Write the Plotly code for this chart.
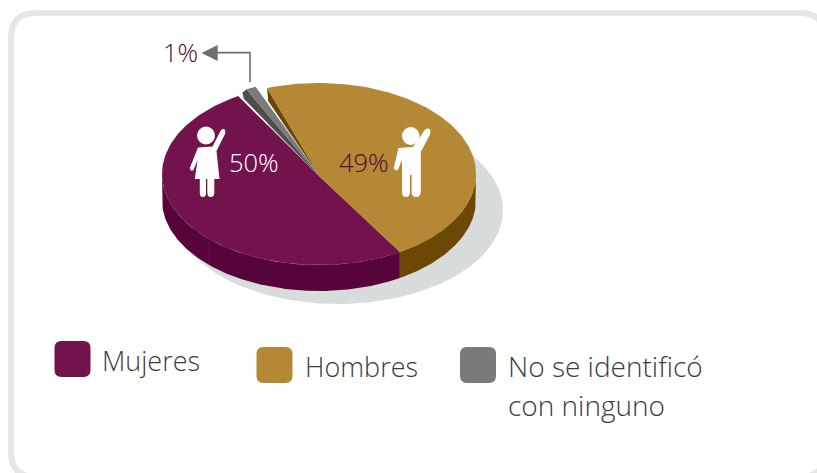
import numpy as np
import plotly.graph_objects as go

# ---- data ----
categories = ["Mujeres", "Hombres", "No se identificó"]
values = [50, 49, 1]
legend_lines = [["Mujeres"], ["Hombres"], ["No se identificó", "con ninguno"]]

# ---- styles ----
top_colors = ["#73134c", "#b48835", "#7a7a7a"]
side_colors = ["#57043a", "#6d4804", "#4d4d4d"]
SHADOW = "#d9dcdc"
FRAME = "#e6e6e3"
TEXT = "#3c3c3c"
FONT = "Open Sans"

# ---- geometry (pixels) ----
W, H = 817, 473
CX, CY, RX, RY = 319, 174, 157, 91
APEX = (320, 177)
DEPTH = 26
BOUNDARY = -59.0      # maroon / gold boundary, degrees counter-clockwise
GOLD_GAP = 8.1        # degrees left open next to the exploded grey slice
GREY_EXPLODE = 1.04


def rim(deg, k=1.0):
    a = np.radians(deg)
    return CX + k * RX * np.cos(a), CY - k * RY * np.sin(a)


def arc(a0, a1, k=1.0, n=160):
    return rim(np.linspace(a0, a1, n), k)


def poly(fig, xs, ys, color, name):
    fig.add_trace(go.Scatter(
        x=list(xs), y=list(ys), mode="lines", fill="toself", fillcolor=color,
        line=dict(width=0, color=color), hoverinfo="skip", name=name, showlegend=False))


fig = go.Figure()

# shadow
t = np.linspace(0, 360, 240)
poly(fig, 338 + 165 * np.cos(np.radians(t)), 210 + 94 * np.sin(np.radians(t)), SHADOW, "sombra")

# slice spans from the values
m_end = BOUNDARY - values[0] * 3.6
g_end = BOUNDARY + values[1] * 3.6 - GOLD_GAP
grey_start = g_end + 3.5
grey_end = grey_start + values[2] * 3.6

# outer walls
ax, ay = arc(BOUNDARY, -180)
poly(fig, np.r_[ax, ax[::-1]], np.r_[ay, ay[::-1] + DEPTH], side_colors[0], categories[0])
ax, ay = arc(BOUNDARY, 0)
poly(fig, np.r_[ax, ax[::-1]], np.r_[ay, ay[::-1] + DEPTH], side_colors[1], categories[1])

# top faces
ax, ay = arc(BOUNDARY, m_end)
poly(fig, np.r_[APEX[0], ax], np.r_[APEX[1], ay], top_colors[0], categories[0])

tx, ty = rim(g_end)
poly(fig, [APEX[0], tx, tx + 1.0], [APEX[1], ty, ty + 13], side_colors[1], categories[1])
ax, ay = arc(BOUNDARY, g_end)
poly(fig, np.r_[APEX[0], ax], np.r_[APEX[1], ay], top_colors[1], categories[1])

gx, gy = rim(grey_end, GREY_EXPLODE)
poly(fig, [APEX[0], gx, gx - 4, gx - 2.6], [APEX[1], gy, gy + 3.5, gy + 9.5], side_colors[2], categories[2])
ax, ay = arc(grey_start, grey_end, GREY_EXPLODE, 12)
poly(fig, np.r_[APEX[0], ax], np.r_[APEX[1], ay], top_colors[2], categories[2])


shapes = []


def solid(path, color):
    shapes.append(dict(type="path", path=path, fillcolor=color, line=dict(width=0), layer="above",
                       xref="x", yref="y"))


# card frame
L, T, R, B, r = 11, 13, 825, 477, 25
frame = (f"M {L + r},{T} L {R - r},{T} Q {R},{T} {R},{T + r} L {R},{B - r} Q {R},{B} {R - r},{B} "
         f"L {L + r},{B} Q {L},{B} {L},{B - r} L {L},{T + r} Q {L},{T} {L + r},{T} Z")
shapes.append(dict(type="path", path=frame, line=dict(color=FRAME, width=6), fillcolor="rgba(0,0,0,0)",
                   layer="below", xref="x", yref="y"))

# seam on the maroon wall
shapes.append(dict(type="line", x0=209.5, x1=209.5, y0=240, y1=265, line=dict(color="#6a1a4c", width=0.7),
                   layer="above", xref="x", yref="y"))

# arrow
shapes.append(dict(type="path", path="M 250,82 L 250,52.6 L 216,52.6", line=dict(color="#6e6e6e", width=1.6),
                   fillcolor="rgba(0,0,0,0)", layer="above", xref="x", yref="y"))
solid("M 201.5,53 L 217.7,45 L 217.7,61 Z", "#6e6e6e")

# woman icon
shapes.append(dict(type="circle", x0=197, x1=215, y0=126.5, y1=144.5,
                   fillcolor="white", line=dict(width=0), layer="above", xref="x", yref="y"))
solid("M 198,147.5 L 212.5,146.5 L 220.5,131 Q 223,127.5 225,130 Q 225.8,132 225,134 L 216.5,151 "
      "L 219.5,179 L 214.3,179 L 214.3,192.5 Q 214.3,197 210.7,197 Q 207.3,197 207.3,192.5 L 207.3,179 "
      "L 206,179 L 206,192.5 Q 206,197 203,197 Q 199.8,197 199.8,192.5 L 199.8,179 L 194.8,179 L 197.5,160 "
      "L 193.5,170 Q 190.5,172 189.8,168 Z", "white")

# man icon
shapes.append(dict(type="circle", x0=402, x1=419.5, y0=127, y1=145,
                   fillcolor="white", line=dict(width=0), layer="above", xref="x", yref="y"))
solid("M 398.5,148 L 413,147 L 424,131 Q 427,127 430,129.5 Q 431,132 430,134.5 L 420.8,152 L 420.8,191.5 "
      "Q 420.8,197 416,197 Q 411.6,197 411.6,191.5 L 411.6,175 L 410,175 L 410,191.5 Q 410,197 406,197 "
      "Q 402,197 402,191.5 L 402,160 L 398,169.5 Q 395,172 393.8,168 Z", "white")

# legend swatches
swatches = [(54.5, 341), (256.5, 347), (460, 347)]
for (sx, sy), c in zip(swatches, top_colors):
    s, q = 36, 7
    solid(f"M {sx + q},{sy} L {sx + s - q},{sy} Q {sx + s},{sy} {sx + s},{sy + q} L {sx + s},{sy + s - q} "
          f"Q {sx + s},{sy + s} {sx + s - q},{sy + s} L {sx + q},{sy + s} Q {sx},{sy + s} {sx},{sy + s - q} "
          f"L {sx},{sy + q} Q {sx},{sy} {sx + q},{sy} Z", c)


def label(x, y, text, color, size, anchor="center"):
    return dict(x=x, y=y, xref="x", yref="y", text=text, showarrow=False, xanchor=anchor, yanchor="middle",
                xshift=0, yshift=0, align="left", borderpad=0,
                font=dict(family=FONT, size=size, color=color, weight=300))


annotations = [
    label(254, 162, f"{values[0]}%", "white", 25.5),
    label(364, 162, f"{values[1]}%", "#4f0a36", 25.5),
    label(180.5, 51.5, f"{values[2]}%", "#4f0a36", 25.5),
    label(101, 360, legend_lines[0][0], TEXT, 27, "left"),
    label(304, 366, legend_lines[1][0], TEXT, 27, "left"),
    label(507, 366, legend_lines[2][0], TEXT, 28, "left"),
    label(507, 405, legend_lines[2][1], TEXT, 28, "left"),
]

fig.update_layout(
    width=W, height=H, autosize=False,
    margin=dict(l=0, r=0, t=0, b=0, pad=0),
    paper_bgcolor="white", plot_bgcolor="white",
    showlegend=False,
    xaxis=dict(range=[0, W], visible=False, fixedrange=True),
    yaxis=dict(range=[H, 0], visible=False, fixedrange=True),
    shapes=shapes, annotations=annotations,
)
fig.write_html("out.html", config={"displayModeBar": False},
               post_script="document.body.style.margin='0';document.body.style.overflow='hidden';")
